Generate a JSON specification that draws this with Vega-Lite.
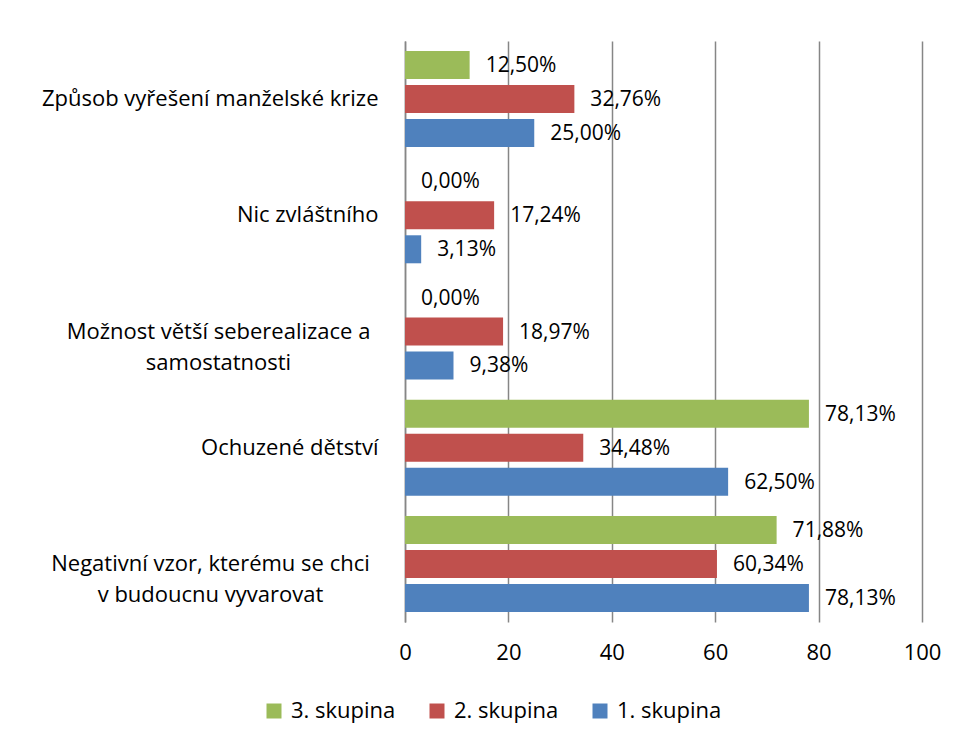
{
  "$schema": "https://vega.github.io/schema/vega-lite/v6.json",
  "autosize": "none",
  "padding": {"left": 405, "top": 41, "right": 35, "bottom": 117},
  "width": 517,
  "height": 581,
  "background": "white",
  "data": {
    "values": [
      {"kat": "Způsob vyřešení manželské krize", "skupina": "3. skupina", "hodnota": 12.50},
      {"kat": "Způsob vyřešení manželské krize", "skupina": "2. skupina", "hodnota": 32.76},
      {"kat": "Způsob vyřešení manželské krize", "skupina": "1. skupina", "hodnota": 25.00},
      {"kat": "Nic zvláštního", "skupina": "3. skupina", "hodnota": 0.00},
      {"kat": "Nic zvláštního", "skupina": "2. skupina", "hodnota": 17.24},
      {"kat": "Nic zvláštního", "skupina": "1. skupina", "hodnota": 3.13},
      {"kat": "Možnost větší seberealizace a|samostatnosti", "skupina": "3. skupina", "hodnota": 0.00},
      {"kat": "Možnost větší seberealizace a|samostatnosti", "skupina": "2. skupina", "hodnota": 18.97},
      {"kat": "Možnost větší seberealizace a|samostatnosti", "skupina": "1. skupina", "hodnota": 9.38},
      {"kat": "Ochuzené dětství", "skupina": "3. skupina", "hodnota": 78.13},
      {"kat": "Ochuzené dětství", "skupina": "2. skupina", "hodnota": 34.48},
      {"kat": "Ochuzené dětství", "skupina": "1. skupina", "hodnota": 62.50},
      {"kat": "Negativní vzor, kterému se chci|v budoucnu vyvarovat", "skupina": "3. skupina", "hodnota": 71.88},
      {"kat": "Negativní vzor, kterému se chci|v budoucnu vyvarovat", "skupina": "2. skupina", "hodnota": 60.34},
      {"kat": "Negativní vzor, kterému se chci|v budoucnu vyvarovat", "skupina": "1. skupina", "hodnota": 78.13}
    ]
  },
  "transform": [
    {"calculate": "replace(format(datum.hodnota, '.2f'), '.', ',') + '%'", "as": "popisek"}
  ],
  "encoding": {
    "y": {
      "field": "kat",
      "type": "nominal",
      "sort": null,
      "scale": {"paddingInner": 0.174, "paddingOuter": 0.087},
      "axis": {
        "title": null,
        "ticks": false,
        "domainColor": "#868686",
        "domainWidth": 1.5,
        "labelFont": "Open Sans",
        "labelFontSize": 22,
        "labelColor": "#000000",
        "labelLimit": 0,
        "labelLineHeight": 31,
        "labelExpr": "split(datum.label, '|')",
        "labelAlign": {"condition": {"test": "indexof(datum.value, '|') >= 0", "value": "center"}, "value": "right"},
        "labelPadding": {
          "condition": [
            {"test": "indexof(datum.value, 'Negativn') >= 0", "value": 195},
            {"test": "indexof(datum.value, 'Možnost') >= 0", "value": 187}
          ],
          "value": 27
        }
      }
    },
    "yOffset": {
      "field": "skupina",
      "type": "nominal",
      "sort": ["3. skupina", "2. skupina", "1. skupina"],
      "scale": {"paddingInner": 0.176, "paddingOuter": 0}
    }
  },
  "layer": [
    {
      "mark": {"type": "bar"},
      "encoding": {
        "x": {
          "field": "hodnota",
          "type": "quantitative",
          "scale": {"domain": [0, 100], "nice": false},
          "axis": {
            "title": null,
            "values": [0, 20, 40, 60, 80, 100],
            "grid": true,
            "gridColor": "#868686",
            "gridWidth": 1.5,
            "domain": false,
            "ticks": false,
            "labelFlush": false,
            "labelFont": "Open Sans",
            "labelFontSize": 22,
            "labelColor": "#000000",
            "labelPadding": 20
          }
        },
        "color": {
          "field": "skupina",
          "type": "nominal",
          "scale": {
            "domain": ["3. skupina", "2. skupina", "1. skupina"],
            "range": ["#9BBB59", "#C0504D", "#4F81BD"]
          },
          "legend": {
            "title": null,
            "orient": "none",
            "direction": "horizontal",
            "columns": 3,
            "legendX": -142,
            "legendY": 659,
            "symbolType": "square",
            "symbolSize": 225,
            "symbolStrokeWidth": 0,
            "labelFont": "Open Sans",
            "labelFontSize": 22,
            "labelColor": "#000000",
            "labelOffset": 6,
            "columnPadding": 30,
            "padding": 0
          }
        }
      }
    },
    {
      "mark": {"type": "text", "align": "left", "baseline": "middle", "dx": 16, "dy": 1, "font": "Open Sans", "fontSize": 21, "color": "#000000"},
      "encoding": {
        "x": {"field": "hodnota", "type": "quantitative"},
        "text": {"field": "popisek"}
      }
    }
  ],
  "config": {
    "view": {"stroke": null}
  }
}
